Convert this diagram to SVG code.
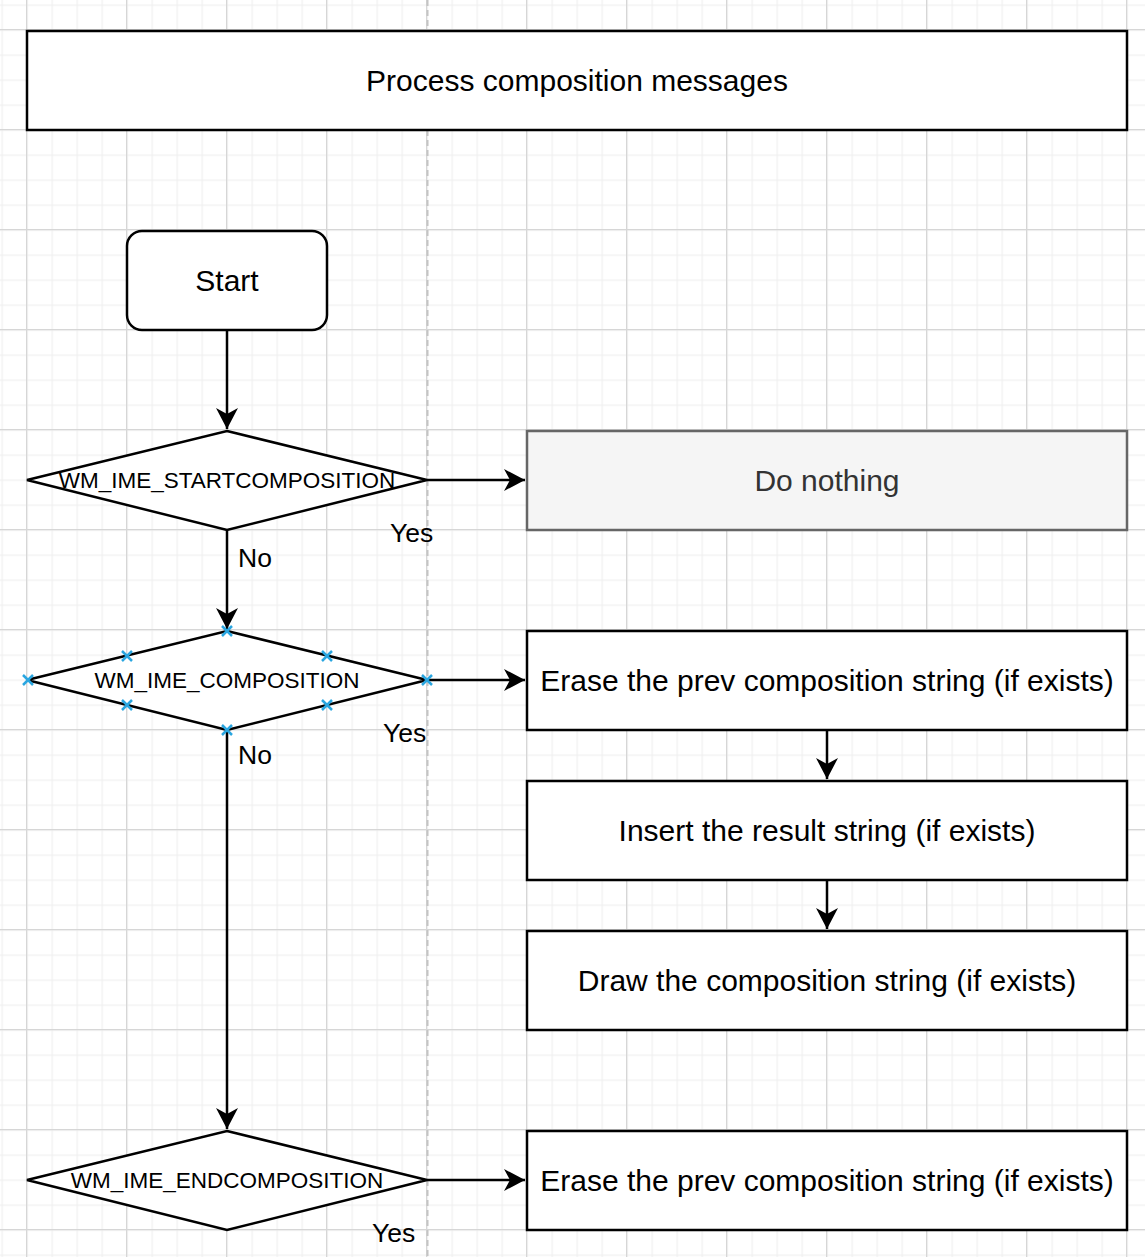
<svg xmlns="http://www.w3.org/2000/svg" width="1145" height="1257" viewBox="0 0 1145 1257">
<defs>
<pattern id="minor" x="1.5" y="4.5" width="25" height="25" patternUnits="userSpaceOnUse">
<path d="M0.5 0 V25 M0 0.5 H25" stroke="#f0f0f0" stroke-width="1.5" fill="none"/>
</pattern>
<pattern id="major" x="26" y="29" width="100" height="100" patternUnits="userSpaceOnUse">
<path d="M0.5 0 V100 M0 0.5 H100" stroke="#d6d6d6" stroke-width="1.5" fill="none"/>
</pattern>
<marker id="arr" markerUnits="userSpaceOnUse" markerWidth="26" markerHeight="26" viewBox="-22 -13 24 26" refX="0" refY="0" orient="auto">
<path d="M0 0 L-21 -11 L-15 0 L-21 11 Z" fill="#000"/>
</marker>
<path id="xm" d="M-5 -5 L5 5 M-5 5 L5 -5" stroke="#2aa6e0" stroke-width="2.5" fill="none"/>
</defs>
<style>
.box{fill:#fff;stroke:#000;stroke-width:2.5}
.gray{fill:#f5f5f5;stroke:#666;stroke-width:2.5}
.t{font-family:"Liberation Sans",Arial,sans-serif;font-size:30px;fill:#000;text-anchor:middle}
.d{font-family:"Liberation Sans",Arial,sans-serif;font-size:22.5px;fill:#000;text-anchor:middle}
.l{font-family:"Liberation Sans",Arial,sans-serif;font-size:26.5px;fill:#000}
.c{stroke:#000;stroke-width:2.5;fill:none;marker-end:url(#arr)}
</style>
<rect width="1145" height="1257" fill="#fff"/>
<rect width="1145" height="1257" fill="url(#minor)"/>
<rect width="1145" height="1257" fill="url(#major)"/>
<line x1="427.5" y1="0" x2="427.5" y2="1257" stroke="#c4c4c4" stroke-width="2" stroke-dasharray="6 4"/>

<g id="connectors">
<path class="c" d="M227 331 V429"/>
<path class="c" d="M427 480 H525"/>
<path class="c" d="M227 531 V629"/>
<path class="c" d="M427 680 H525"/>
<path class="c" d="M827 731 V779"/>
<path class="c" d="M827 881 V929"/>
<path class="c" d="M227 731 V1129"/>
<path class="c" d="M427 1180 H525"/>
<text class="l" x="390" y="542">Yes</text>
<text class="l" x="238" y="567">No</text>
<text class="l" x="383" y="742">Yes</text>
<text class="l" x="238" y="764">No</text>
<text class="l" x="372" y="1242">Yes</text>
</g>

<g id="title">
<rect class="box" x="27" y="31" width="1100" height="99"/>
<text class="t" x="577" y="91">Process composition messages</text>
</g>
<g id="start">
<rect class="box" x="127" y="231" width="200" height="99" rx="15"/>
<text class="t" x="227" y="291">Start</text>
</g>
<g id="d1">
<polygon class="box" points="227,431 427,480 227,530 27,480"/>
<text class="d" x="227" y="488">WM_IME_STARTCOMPOSITION</text>
</g>
<g id="nothing">
<rect class="gray" x="527" y="431" width="600" height="99"/>
<text class="t" x="827" y="491" style="fill:#333">Do nothing</text>
</g>
<g id="d2">
<polygon class="box" points="227,631 427,680 227,730 27,680"/>
<text class="d" x="227" y="688">WM_IME_COMPOSITION</text>
<use href="#xm" x="227" y="631"/>
<use href="#xm" x="127" y="656"/>
<use href="#xm" x="327" y="656"/>
<use href="#xm" x="28" y="680"/>
<use href="#xm" x="427" y="680"/>
<use href="#xm" x="127" y="705"/>
<use href="#xm" x="327" y="705"/>
<use href="#xm" x="227" y="730"/>
</g>
<g id="erase1">
<rect class="box" x="527" y="631" width="600" height="99"/>
<text class="t" x="827" y="691">Erase the prev composition string (if exists)</text>
</g>
<g id="insert">
<rect class="box" x="527" y="781" width="600" height="99"/>
<text class="t" x="827" y="841">Insert the result string (if exists)</text>
</g>
<g id="draw">
<rect class="box" x="527" y="931" width="600" height="99"/>
<text class="t" x="827" y="991">Draw the composition string (if exists)</text>
</g>
<g id="d3">
<polygon class="box" points="227,1131 427,1180 227,1230 27,1180"/>
<text class="d" x="227" y="1188">WM_IME_ENDCOMPOSITION</text>
</g>
<g id="erase2">
<rect class="box" x="527" y="1131" width="600" height="99"/>
<text class="t" x="827" y="1191">Erase the prev composition string (if exists)</text>
</g>
</svg>
